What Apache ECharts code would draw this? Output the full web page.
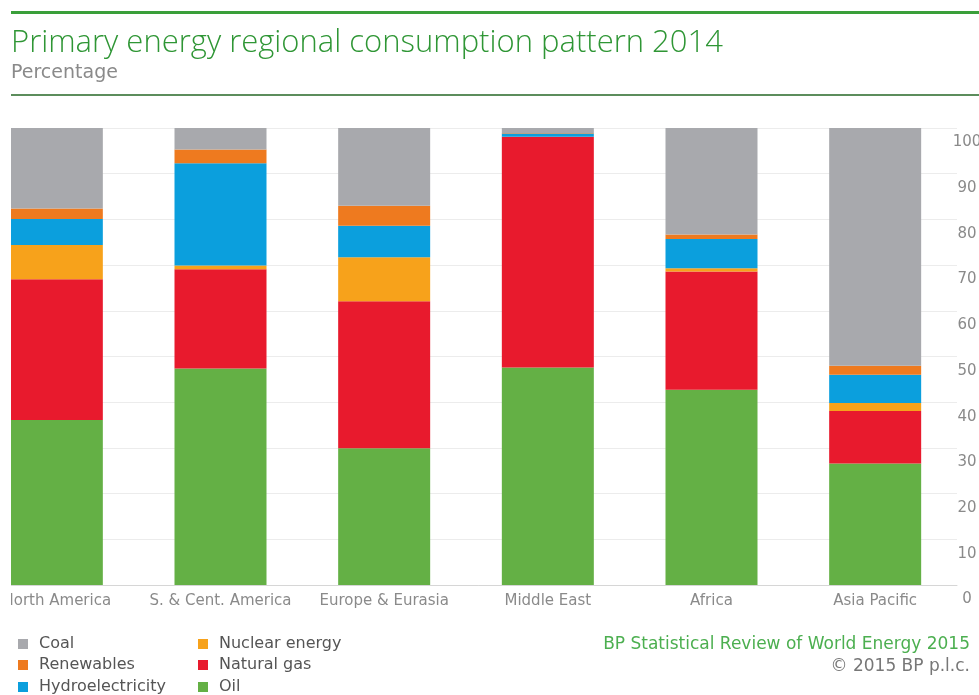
<!DOCTYPE html>
<html>
<head>
<meta charset="utf-8">
<script src="https://cdn.jsdelivr.net/npm/echarts@6/dist/echarts.min.js"></script>
<style>
  html, body { margin: 0; padding: 0; background: #fff; }
  #chart { width: 979px; height: 695px; }
</style>
</head>
<body>
<div id="chart"></div>
<script>
// regions, bottom-to-top stacking order of fuels
var regions = ["North America", "S. & Cent. America", "Europe & Eurasia", "Middle East", "Africa", "Asia Pacific"];
var oil = [36.1, 47.4, 29.9, 47.6, 42.7, 26.6];
var naturalGas = [30.8, 21.7, 32.2, 50.5, 25.9, 11.5];
var nuclear = [7.5, 0.8, 9.6, 0, 0.7, 1.7];
var hydro = [5.7, 22.4, 6.9, 0.7, 6.4, 6.2];
var renewables = [2.3, 3.0, 4.4, 0.1, 1.0, 2.0];
var coal = [17.6, 4.7, 17.0, 1.1, 23.3, 52.0];
var yTicks = [0, 10, 20, 30, 40, 50, 60, 70, 80, 90, 100];

var chart = echarts.init(document.getElementById("chart"));

function bar(name, data, color) {
  return {
    name: name,
    type: "bar",
    stack: "total",
    barWidth: 92,
    data: data,
    itemStyle: { color: color },
    emphasis: { disabled: true }
  };
}

var txt = "'DejaVu Sans', sans-serif";

// one legend per entry so the two columns sit where they do in the original
function legendItem(name, left, top) {
  return {
    left: left, top: top,
    itemWidth: 10, itemHeight: 10, icon: "rect",
    selectedMode: false,
    textStyle: { fontFamily: txt, fontSize: 16, color: "#555", padding: [0, 0, 0, 6] },
    data: [name]
  };
}

var option = {
  animation: false,
  backgroundColor: "#fff",
  textStyle: { fontFamily: txt },
  title: {
    left: 6,
    top: 23,
    text: "Primary energy regional consumption pattern 2014",
    subtext: "Percentage",
    itemGap: 5,
    textStyle: { fontFamily: "'Open Sans'", fontWeight: 300, fontSize: 31, color: "#2f9635" },
    subtextStyle: { fontFamily: txt, fontSize: 19, color: "#8a8a8a" }
  },
  grid: { left: -25, width: 982, top: 128, bottom: 110, outerBoundsMode: "none" },
  xAxis: {
    type: "category",
    data: regions,
    axisTick: { show: false },
    axisLine: { lineStyle: { color: "#d6d6d6" } },
    axisLabel: { color: "#8a8a8a", fontSize: 15, margin: 9, interval: 0 }
  },
  yAxis: {
    type: "value",
    position: "right",
    min: 0,
    max: 100,
    interval: 10,
    axisLine: { show: false },
    axisTick: { show: false },
    splitLine: { lineStyle: { color: "#ececec" } },
    axisLabel: {
      color: "#8a8a8a",
      fontSize: 15,
      margin: 10,
      align: "center",
      verticalAlign: "top",
      padding: [7, 0, 0, 0],
      formatter: function (v) { return yTicks.indexOf(v) >= 0 ? String(v) : ""; }
    }
  },
  legend: [
    legendItem("Coal", 13, 631),
    legendItem("Renewables", 13, 652),
    legendItem("Hydroelectricity", 13, 674),
    legendItem("Nuclear energy", 193, 631),
    legendItem("Natural gas", 193, 652),
    legendItem("Oil", 193, 674)
  ],
  graphic: [
    { type: "rect", shape: { x: 11, y: 11, width: 968, height: 3 }, style: { fill: "#3a9f3a" } },
    { type: "rect", shape: { x: 11, y: 94, width: 968, height: 2 }, style: { fill: "#5c8d5c" } },
    {
      type: "text", right: 9, top: 636,
      style: { text: "BP Statistical Review of World Energy 2015", fill: "#4caf50", font: "17px " + txt }
    },
    {
      type: "text", right: 9, top: 658,
      style: { text: "\u00a9 2015 BP p.l.c.", fill: "#777", font: "17px " + txt }
    },
    // the reference is cropped at its left edge
    { type: "rect", z: 100, shape: { x: 0, y: 0, width: 11, height: 695 }, style: { fill: "#fff" } }
  ],
  series: [
    bar("Oil", oil, "#64b045"),
    bar("Natural gas", naturalGas, "#e81a2d"),
    bar("Nuclear energy", nuclear, "#f7a21b"),
    bar("Hydroelectricity", hydro, "#0b9fdd"),
    bar("Renewables", renewables, "#ee7a1f"),
    bar("Coal", coal, "#a8a9ad")
  ]
};

chart.setOption(option);
</script>
</body>
</html>
